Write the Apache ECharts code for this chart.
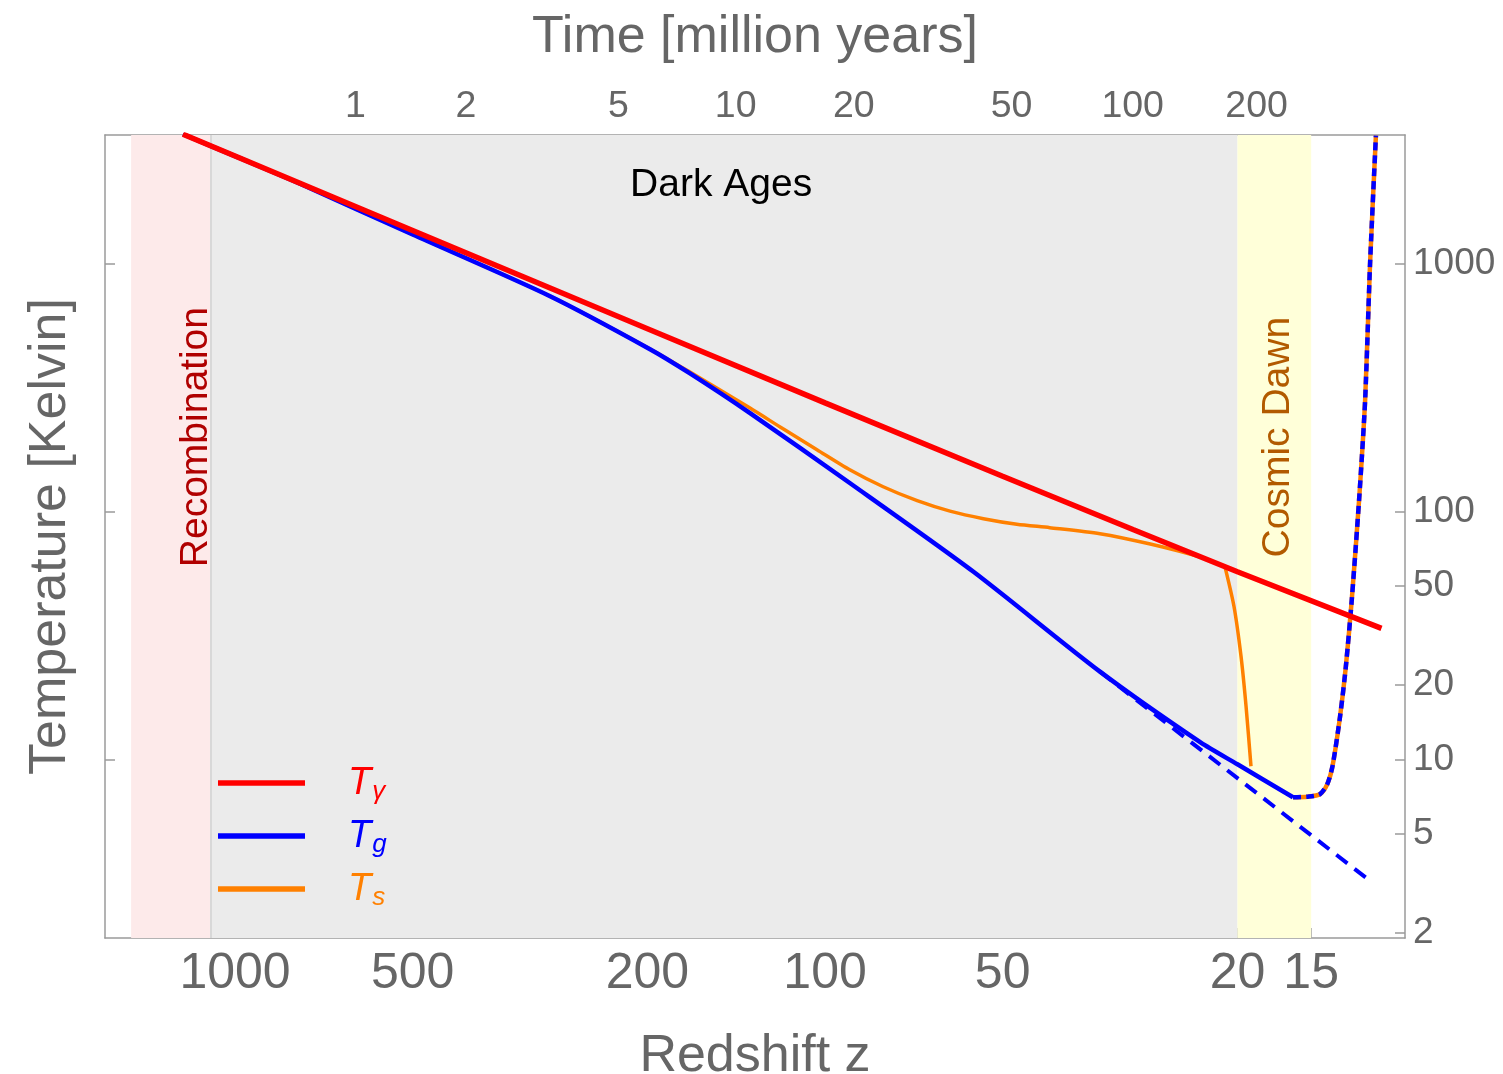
<!DOCTYPE html>
<html>
<head>
<meta charset="utf-8">
<script src="https://cdn.jsdelivr.net/npm/echarts@6/dist/echarts.min.js"></script>
<style>
  html, body { margin: 0; padding: 0; background: #ffffff; }
  #chart { width: 1503px; height: 1074px; }
</style>
</head>
<body>
<div id="chart"></div>
<script>
// ---- Temperature histories vs. redshift (Kelvin) ----
// CMB photon temperature
const photonZ = [1225, 1000, 776, 500, 300, 200, 100, 50, 30, 20, 11.4];
const photonT = [3340, 2728, 2117, 1365, 820, 548, 275, 139, 84.5, 57.2, 33.8];

// Gas kinetic temperature (standard history)
const gasZ = [1225, 1000, 776, 500, 293, 198, 169.4, 134, 90.8, 56.1, 34.2, 23.1, 20, 16.1];
const gasT = [3340, 2725, 2108, 1315, 743, 453, 361.6, 250, 130.5, 57.3, 22.6, 11.7, 9.55, 7.03];

// Spin temperature: coupled phase, then the drop once it meets the CMB
const spinZ = [1225, 1000, 776, 500, 293, 198, 169.4, 134, 117.8, 103.2, 90.8, 79.7, 69.8, 61.4, 53.9, 47.3, 41.6, 34.2, 28.1, 23.1, 21.0];
const spinT = [3340, 2725, 2108, 1315, 743, 454, 366, 262, 216, 178, 147.7, 126.1, 110.8, 100.5, 93.7, 89.0, 86.2, 81.5, 74.0, 65.5, 60.0];
const spinDropZ = [21.0, 20.27, 19.72, 19.34, 18.97];
const spinDropT = [60.0, 41.4, 26.0, 16.4, 9.38];

// Gas without heating (adiabatic continuation)
const adiabaticZ = [34.2, 20, 11.9];
const adiabaticT = [22.6, 8.4, 3.22];

// Heated phase where gas and spin temperatures coincide
const heatedZ = [16.1, 15.2, 14.5, 14.09, 13.8, 13.4, 13.1, 12.8, 12.44, 12.15, 11.92, 11.65];
const heatedT = [7.03, 7.07, 7.23, 7.93, 9.4, 14.9, 23.7, 44.2, 111.8, 283, 1000, 3300];

// ---- Axis ticks ----
const redshiftTicks = [1000, 500, 200, 100, 50, 20, 15];
const tempTicksRight = [2, 5, 10, 20, 50, 100, 1000];
const tempTicksLeft = [10, 100, 1000];
const ageTicks = [1, 2, 5, 10, 20, 50, 100, 200];          // million years
const ageTickRedshift = [625, 406, 224, 141.7, 89.4, 48.3, 30.1, 18.56];

// ---- Epochs (redshift ranges) ----
const recombinationRange = [1500, 1100];
const darkAgesRange = [1100, 20];
const cosmicDawnRange = [20, 15];

const zip = (xs, ys) => xs.map((x, i) => [x, ys[i]]);

const FONT = "'Liberation Sans', Arial, Helvetica, sans-serif";
const GRAY = '#666666';
const AXIS = '#9a9a9a';
const RED = '#ff0000', BLUE = '#0000ff', ORANGE = '#ff8000';

const zRange = { min: 10.4, max: 1661 };
const tRange = { min: 1.9, max: 3317 };

function ageLabel(v) {
  let best = 0, bestErr = Infinity;
  ageTickRedshift.forEach((z, i) => {
    const e = Math.abs(Math.log(z) - Math.log(v));
    if (e < bestErr) { bestErr = e; best = i; }
  });
  return String(ageTicks[best]);
}

const baseAxis = {
  type: 'log',
  logBase: 10,
  splitLine: { show: false },
  minorTick: { show: false },
  minorSplitLine: { show: false },
  nameMoveOverlap: false,
  nameTextStyle: { fontSize: 52, color: GRAY, fontFamily: FONT },
  axisLine: { show: true, onZero: false, lineStyle: { color: AXIS, width: 1.5 } }
};

const legendSub = { 'Tγ': ['r', 'γ'], 'Tg': ['b', 'g'], 'Ts': ['o', 's'] };
const richStyles = {};
[['r', RED], ['b', BLUE], ['o', ORANGE]].forEach(([k, c]) => {
  richStyles[k + 'T'] = { fontSize: 38, fontStyle: 'italic', color: c, fontFamily: FONT,
                          lineHeight: 44, verticalAlign: 'middle', padding: [0, 0, 0, 38] };
  richStyles[k + 'S'] = { fontSize: 26, fontStyle: 'italic', color: c, fontFamily: FONT,
                          lineHeight: 26, verticalAlign: 'bottom', padding: [0, 0, 0, 1] };
});

const textMark = (coord, text, color, rotate) => ({
  coord: coord,
  value: text,
  symbol: 'rect',
  symbolSize: 1,
  itemStyle: { color: 'rgba(0,0,0,0)' },
  label: {
    show: true, position: 'inside', formatter: text, rotate: rotate,
    fontSize: 39, color: color, fontFamily: FONT
  }
});

const SMOOTH = 0.25;

const option = {
  backgroundColor: '#ffffff',
  animation: false,
  textStyle: { fontFamily: FONT },
  grid: { left: 105, right: 98, top: 135, bottom: 136, outerBoundsMode: 'none', containLabel: false },
  legend: {
    orient: 'vertical',
    left: 213,
    top: 759,
    icon: 'rect',
    itemWidth: 87,
    itemHeight: 5.5,
    itemGap: 12,
    selectedMode: false,
    data: ['Tγ', 'Tg', 'Ts'],
    formatter: name => `{${legendSub[name][0]}T|T}{${legendSub[name][0]}S|${legendSub[name][1]}}`,
    textStyle: { rich: richStyles }
  },
  xAxis: [
    Object.assign({}, baseAxis, {
      min: zRange.min, max: zRange.max, inverse: true, position: 'bottom',
      name: 'Redshift z', nameLocation: 'middle', nameGap: 93,
      axisTick: { show: true, inside: true, length: 10, customValues: redshiftTicks,
                  lineStyle: { color: AXIS, width: 1.5 } },
      axisLabel: { show: true, customValues: redshiftTicks, fontSize: 50, color: GRAY,
                   fontFamily: FONT, margin: 11, formatter: v => String(v) }
    }),
    Object.assign({}, baseAxis, {
      min: zRange.min, max: zRange.max, inverse: true, position: 'top',
      name: 'Time [million years]', nameLocation: 'middle', nameGap: 71,
      axisTick: { show: true, inside: true, length: 10, customValues: ageTickRedshift,
                  lineStyle: { color: AXIS, width: 1.5 } },
      axisLabel: { show: true, customValues: ageTickRedshift, fontSize: 37.5, color: GRAY,
                   fontFamily: FONT, margin: 9, formatter: v => ageLabel(v) }
    })
  ],
  yAxis: [
    Object.assign({}, baseAxis, {
      min: tRange.min, max: tRange.max, position: 'left',
      name: 'Temperature [Kelvin]', nameLocation: 'middle', nameGap: 28,
      axisTick: { show: true, inside: true, length: 10, customValues: tempTicksLeft,
                  lineStyle: { color: AXIS, width: 1.5 } },
      axisLabel: { show: false }
    }),
    Object.assign({}, baseAxis, {
      min: tRange.min, max: tRange.max, position: 'right',
      axisTick: { show: true, inside: true, length: 10, customValues: tempTicksRight,
                  lineStyle: { color: AXIS, width: 1.5 } },
      axisLabel: { show: true, customValues: tempTicksRight, fontSize: 37, color: GRAY,
                   fontFamily: FONT, margin: 8, formatter: v => String(v) }
    })
  ],
  series: [
    {
      name: 'Ts',
      type: 'line',
      z: 2,
      symbol: 'none',
      smooth: SMOOTH,
      data: zip(spinZ, spinT),
      lineStyle: { color: ORANGE, width: 3.5 },
      itemStyle: { color: ORANGE },
      markArea: {
        silent: true,
        z: 1,
        label: { show: false },
        data: [
          [{ xAxis: recombinationRange[0], itemStyle: { color: '#fdeaea' } }, { xAxis: recombinationRange[1] }],
          [{ xAxis: darkAgesRange[0], itemStyle: { color: '#ebebeb' } }, { xAxis: darkAgesRange[1] }],
          [{ xAxis: cosmicDawnRange[0], itemStyle: { color: '#ffffd9' } }, { xAxis: cosmicDawnRange[1] }]
        ]
      },
      markLine: {
        silent: true,
        z: 1,
        symbol: ['none', 'none'],
        label: { show: false },
        lineStyle: { color: '#d8d8d8', width: 2, type: 'solid' },
        data: [{ xAxis: darkAgesRange[0] }]
      }
    },
    {
      name: 'Ts',
      type: 'line',
      z: 2,
      symbol: 'none',
      smooth: SMOOTH,
      data: zip(spinDropZ, spinDropT),
      lineStyle: { color: ORANGE, width: 3.5 },
      itemStyle: { color: ORANGE }
    },
    {
      name: 'Tg',
      type: 'line',
      z: 3,
      symbol: 'none',
      smooth: SMOOTH,
      data: zip(gasZ, gasT),
      lineStyle: { color: BLUE, width: 4.5 },
      itemStyle: { color: BLUE }
    },
    {
      name: 'Tg adiabatic',
      type: 'line',
      z: 3,
      symbol: 'none',
      data: zip(adiabaticZ, adiabaticT),
      lineStyle: { color: BLUE, width: 4, type: [14, 9] },
      itemStyle: { color: BLUE }
    },
    {
      name: 'Ts heated',
      type: 'line',
      z: 3,
      symbol: 'none',
      smooth: SMOOTH,
      data: zip(heatedZ, heatedT),
      lineStyle: { color: ORANGE, width: 4.5 },
      itemStyle: { color: ORANGE }
    },
    {
      name: 'Tg heated',
      type: 'line',
      z: 3,
      symbol: 'none',
      smooth: SMOOTH,
      data: zip(heatedZ, heatedT),
      lineStyle: { color: BLUE, width: 4.5, type: [8, 5] },
      itemStyle: { color: BLUE }
    },
    {
      name: 'Tγ',
      type: 'line',
      z: 4,
      symbol: 'none',
      data: zip(photonZ, photonT),
      lineStyle: { color: RED, width: 5.5 },
      itemStyle: { color: RED },
      markPoint: {
        silent: true,
        data: [
          textMark([150, 2082], 'Dark Ages', '#000000', 0),
          textMark([1164, 200], 'Recombination', '#b00000', 90),
          textMark([17.07, 200], 'Cosmic Dawn', '#b25a00', 90)
        ]
      }
    }
  ]
};

const chart = echarts.init(document.getElementById('chart'), null, { renderer: 'canvas' });
chart.setOption(option);
</script>
</body>
</html>
